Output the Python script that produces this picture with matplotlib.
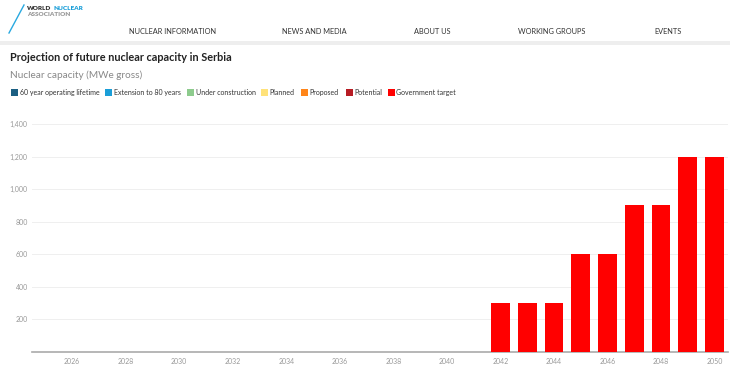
import matplotlib
matplotlib.use("Agg")
import matplotlib.pyplot as plt
import matplotlib.patches as patches
from matplotlib.lines import Line2D

plt.rcParams['font.family'] = ['Lato', 'DejaVu Sans']

# data
years = list(range(2025, 2051))
target = [0] * 17 + [300, 300, 300, 600, 600, 900, 900, 1200, 1200]
tick_years = list(range(2026, 2051, 2))
y_ticks = [200, 400, 600, 800, 1000, 1200, 1400]

legend_names = ['60 year operating lifetime', 'Extension to 80 years', 'Under construction',
                'Planned', 'Proposed', 'Potential', 'Government target']
legend_colors = ['#1b5f82', '#1a9ed8', '#8dcb8d', '#ffe27a', '#ff8519', '#b71c24', '#ff0000']
nav_items = ['NUCLEAR INFORMATION', 'NEWS AND MEDIA', 'ABOUT US', 'WORKING GROUPS', 'EVENTS']
nav_x = [173, 314, 432, 552, 668]

W, H = 730, 367
fig = plt.figure(figsize=(W / 100, H / 100), dpi=100)
fig.patch.set_facecolor('white')

def fx(px):
    return px / W

def fy(py):
    return 1 - py / H

# header
fig.add_artist(Line2D([fx(9), fx(24)], [fy(33), fy(5)], color='#29a9e0', lw=1.0))
t_world = fig.text(fx(27), fy(8), 'WORLD', fontsize=4.6, fontweight='heavy', color='#333333', va='center')
renderer = fig.canvas.get_renderer()
bb = t_world.get_window_extent(renderer=renderer)
fig.text(fx(bb.x1 + 2), fy(8), 'NUCLEAR', fontsize=4.6, fontweight='heavy', color='#1a9ed8', va='center')
fig.text(fx(27), fy(15), 'ASSOCIATION', fontsize=4.6, fontweight='heavy', color='#9a9a9a', va='center')
for name, x in zip(nav_items, nav_x):
    fig.text(fx(x), fy(31), name, fontsize=5.3, color='#333333', ha='center', va='center')
fig.add_artist(patches.Rectangle((0, fy(45)), 1, fy(41) - fy(45), transform=fig.transFigure,
                                 facecolor='#eeeeee', edgecolor='none'))

fig.text(fx(10), fy(57.5), 'Projection of future nuclear capacity in Serbia', fontsize=7.8,
         fontweight='bold', color='#222222', va='center')
fig.text(fx(10), fy(75.5), 'Nuclear capacity (MWe gross)', fontsize=7.2, color='#888888', va='center')

lx = [11, 105, 187, 261, 301, 346, 388]
for name, color, x in zip(legend_names, legend_colors, lx):
    fig.add_artist(patches.Rectangle((fx(x), fy(96)), fx(7), fy(89) - fy(96),
                                     transform=fig.transFigure, facecolor=color, edgecolor='none'))
    fig.text(fx(x + 8.5), fy(92.5), name, fontsize=5.0, color='#333333', va='center')

# chart
ax = fig.add_axes([fx(32), fy(352), fx(728) - fx(32), fy(124) - fy(352)])
ax.bar(years, target, width=0.7, color='#ff0000', zorder=3)
ax.set_xlim(2024.5, 2050.5)
ax.set_ylim(0, 1400)
ax.set_xticks(tick_years)
ax.set_xticklabels([str(y) for y in tick_years])
ax.set_yticks(y_ticks)
ax.set_yticklabels([f'{v:,}' for v in y_ticks])
ax.grid(axis='y', color='#efefef', lw=0.7, zorder=0)
for s in ['top', 'right', 'left']:
    ax.spines[s].set_visible(False)
ax.spines['bottom'].set_color('#aaaaaa')
ax.spines['bottom'].set_linewidth(1.2)
ax.tick_params(axis='both', length=0, labelsize=5, labelcolor='#999999')
ax.tick_params(axis='x', pad=4)
ax.tick_params(axis='y', pad=3)

fig.savefig('out.png', dpi=100, facecolor='white')
